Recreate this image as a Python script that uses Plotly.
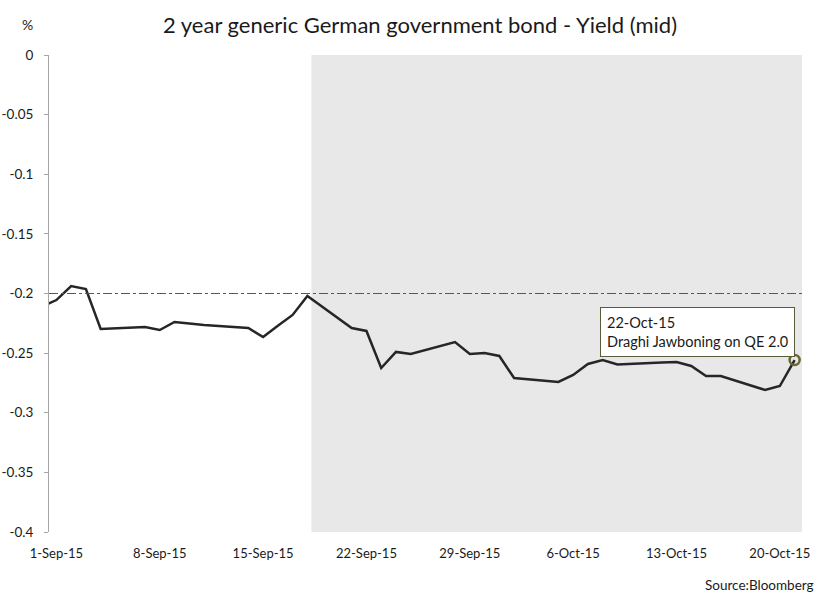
"""
2 year generic German government bond yield, Sep-Oct 2015 (Bloomberg).
"""

import plotly.graph_objects as go

# trading days (31-Aug is only there so the line runs into the left edge)
dates = [
    "2015-08-31", "2015-09-01", "2015-09-02", "2015-09-03", "2015-09-04",
    "2015-09-07", "2015-09-08", "2015-09-09", "2015-09-10", "2015-09-11",
    "2015-09-14", "2015-09-15", "2015-09-16", "2015-09-17", "2015-09-18",
    "2015-09-21", "2015-09-22", "2015-09-23", "2015-09-24", "2015-09-25",
    "2015-09-28", "2015-09-29", "2015-09-30", "2015-10-01", "2015-10-02",
    "2015-10-05", "2015-10-06", "2015-10-07", "2015-10-08", "2015-10-09",
    "2015-10-12", "2015-10-13", "2015-10-14", "2015-10-15", "2015-10-16",
    "2015-10-19", "2015-10-20", "2015-10-21",
]
yield_mid = [
    -0.211, -0.2055, -0.1937, -0.1962, -0.2298,
    -0.2281, -0.2306, -0.2239, -0.2252, -0.2264,
    -0.2289, -0.2365, -0.2270, -0.2180, -0.2021,
    -0.2289, -0.2314, -0.2625, -0.2490, -0.2507,
    -0.2407, -0.2507, -0.2499, -0.2524, -0.2709,
    -0.2742, -0.2683, -0.2591, -0.2558, -0.2595,
    -0.2578, -0.2574, -0.2608, -0.2692, -0.2692,
    -0.2809, -0.2776, -0.2558,
]

x_tick_vals = ["2015-09-01", "2015-09-08", "2015-09-15", "2015-09-22",
               "2015-09-29", "2015-10-06", "2015-10-13", "2015-10-20"]
x_tick_text = ["1-Sep-15", "8-Sep-15", "15-Sep-15", "22-Sep-15",
               "29-Sep-15", "6-Oct-15", "13-Oct-15", "20-Oct-15"]
# tick marks sit on the day boundaries, between the labels
x_tick_marks = ["2015-09-07 12:00", "2015-09-14 12:00", "2015-09-21 12:00",
                "2015-09-28 12:00", "2015-10-05 12:00", "2015-10-12 12:00",
                "2015-10-19 12:00"]

y_tick_vals = [0, -0.05, -0.1, -0.15, -0.2, -0.25, -0.3, -0.35, -0.4]
y_tick_text = ["0", "-0.05", "-0.1", "-0.15", "-0.2", "-0.25", "-0.3", "-0.35", "-0.4"]

X_RANGE = ["2015-08-31 12:00", "2015-10-21 12:00"]
SHADE_START = "2015-09-18 06:30"
REF_LEVEL = -0.2

FONT = "Lato"
AXIS_GREY = "#a6a6a6"
OLIVE = "#5c5a38"

fig = go.Figure()

fig.add_trace(
    go.Scatter(
        x=dates,
        y=yield_mid,
        mode="lines",
        line=dict(color="#262626", width=2.5),
        showlegend=False,
        hoverinfo="skip",
    )
)

# highlighted last point
fig.add_trace(
    go.Scatter(
        x=[dates[-1]],
        y=[yield_mid[-1]],
        mode="markers",
        marker=dict(size=10, color="rgba(0,0,0,0)", line=dict(color="#6b6636", width=2.5)),
        showlegend=False,
        hoverinfo="skip",
    )
)

# shaded period
fig.add_shape(
    type="rect",
    xref="x", yref="y",
    x0=SHADE_START, x1=X_RANGE[1], y0=-0.4, y1=0,
    fillcolor="#e8e8e8",
    line=dict(width=0),
    layer="below",
)

# -0.2 reference line
fig.add_shape(
    type="line",
    xref="paper", yref="y",
    x0=0, x1=1, y0=REF_LEVEL, y1=REF_LEVEL,
    line=dict(color=OLIVE, width=1, dash="dashdot"),
)

fig.add_annotation(
    x=dates[-1], y=yield_mid[-1],
    xref="x", yref="y",
    text="22-Oct-15<br>Draghi Jawboning on QE 2.0",
    showarrow=False,
    xanchor="right", yanchor="bottom",
    yshift=3,
    align="left",
    bgcolor="white",
    bordercolor=OLIVE,
    borderwidth=1,
    borderpad=6,
    font=dict(family=FONT, size=14.5, color="#1a1a1a"),
)

fig.add_annotation(
    text="%",
    x=-0.028, y=1.063, xref="paper", yref="paper",
    xanchor="center", yanchor="middle",
    showarrow=False,
    font=dict(family=FONT, size=14, color="#1a1a1a"),
)

fig.add_annotation(
    text="Source:Bloomberg",
    x=1.018, y=-0.111, xref="paper", yref="paper",
    xanchor="right", yanchor="middle",
    showarrow=False,
    font=dict(family=FONT, size=13.5, color="#1a1a1a"),
)

fig.update_layout(
    title=dict(
        text="2 year generic German government bond - Yield (mid)",
        x=0.5, xanchor="center",
        y=1 - 25 / 602, yanchor="middle",
        font=dict(family=FONT, size=22, color="#1a1a1a"),
    ),
    xaxis=dict(
        type="date",
        range=X_RANGE,
        tickvals=x_tick_vals,
        ticktext=x_tick_text,
        showline=False,
        showgrid=False,
        zeroline=False,
        ticks="",
        ticklabelstandoff=12,
        automargin=False,
        tickfont=dict(family=FONT, size=13, color="#1a1a1a"),
    ),
    xaxis2=dict(
        type="date",
        range=X_RANGE,
        overlaying="x",
        side="top",
        anchor="y",
        tickvals=x_tick_marks,
        showticklabels=False,
        showline=True,
        linecolor=AXIS_GREY,
        linewidth=1,
        ticks="outside",
        ticklen=3,
        tickcolor=AXIS_GREY,
        showgrid=False,
        zeroline=False,
        automargin=False,
    ),
    yaxis=dict(
        range=[-0.4, 0],
        tickvals=y_tick_vals,
        ticktext=y_tick_text,
        showline=True,
        linecolor=AXIS_GREY,
        linewidth=1,
        ticks="outside",
        ticklen=4,
        tickcolor=AXIS_GREY,
        ticklabelstandoff=8,
        showgrid=False,
        zeroline=False,
        automargin=False,
        tickfont=dict(family=FONT, size=13.5, color="#1a1a1a"),
    ),
    plot_bgcolor="white",
    paper_bgcolor="white",
    margin=dict(l=49, r=38, t=55, b=70),
    width=840,
    height=602,
)

# drop the browser's default body margin so the figure fills the window
fig.write_html(
    "out.html",
    config={"displayModeBar": False},
    post_script="document.body.style.margin = '0';",
)
